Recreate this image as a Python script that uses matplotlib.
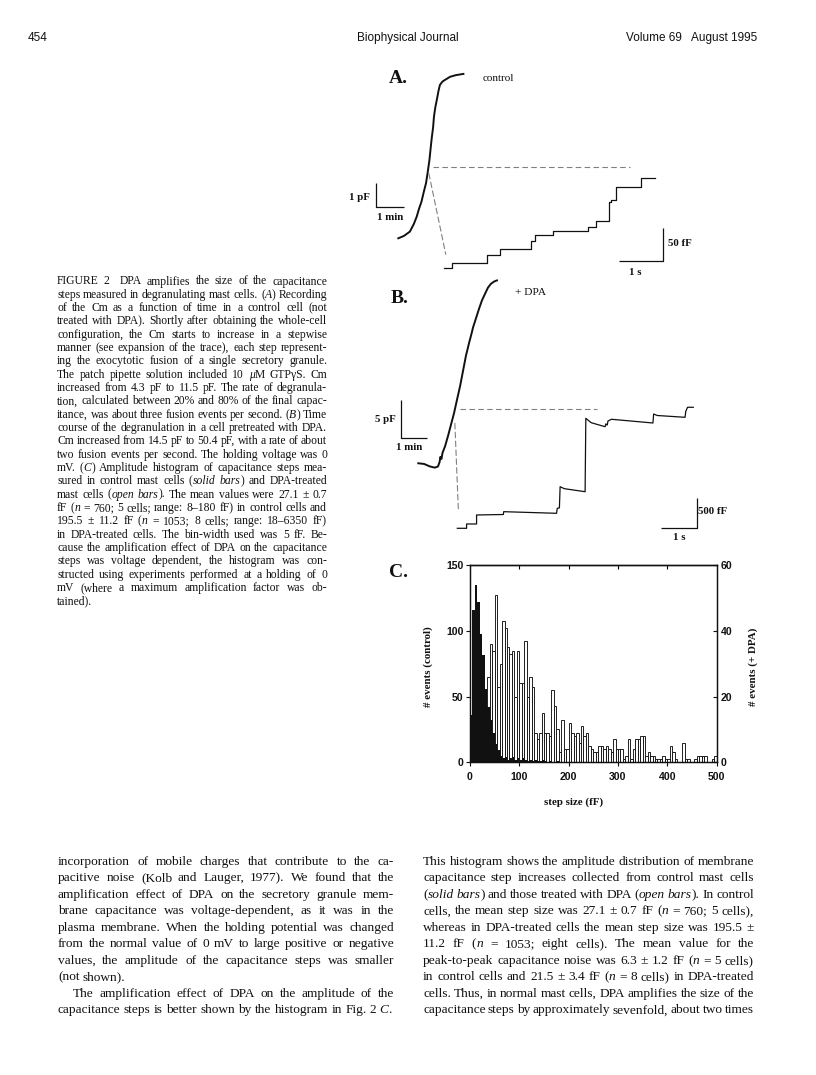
import numpy as np
import matplotlib
matplotlib.use('Agg')
import matplotlib.pyplot as plt
from matplotlib.patches import ConnectionPatch

plt.rcParams['font.family'] = ['Liberation Sans', 'DejaVu Sans']
SERIF = ['Liberation Serif', 'DejaVu Serif']
INK = '#111111'

# ---- panel A, whole recording (time in min, Cm in pF)
a_slow_t = [0, 0.2, 0.41, 0.55, 0.65, 0.73, 0.82, 0.9, 0.98, 1.04, 1.1, 1.14,
            1.18, 1.23, 1.26, 1.31, 1.36, 1.42, 1.47, 1.56, 1.65, 1.83, 2.04, 2.3]
a_slow_c = [4.3, 4.4, 4.58, 4.9, 5.2, 5.52, 5.83, 6.23, 6.6, 7.06, 7.56, 8.02,
            8.46, 8.93, 9.37, 9.77, 10.06, 10.44, 10.69, 10.83, 10.9, 11.03, 11.1, 11.15]
# ---- panel A, expanded steps (time in s, dCm in fF)
a_fast_t = [0, 0.19, 0.96, 1.27, 1.97, 2.05, 2.47, 3.25, 3.43, 3.72, 3.78, 3.88, 4.45, 4.76]
a_fast_c = [0, 7.5, 20, 29, 41, 50, 56, 62.5, 71.5, 100, 103, 122.5, 135, 135]

# ---- panel B, whole recording (min, pF)
b_slow_t = [0, 0.22, 0.44, 0.63, 0.75, 0.81, 0.84, 0.88, 0.92, 1.02, 1.13, 1.24, 1.36,
            1.47, 1.59, 1.7, 1.81, 1.93, 2.04, 2.08, 2.2, 2.31, 2.42, 2.54, 2.65, 2.76,
            2.88, 2.99]
b_slow_c = [14.5, 14.41, 14.08, 13.92, 14.08, 14.67, 15.34, 15.07, 15.87, 16.79, 18.12,
            19.58, 21.17, 22.9, 24.75, 26.74, 28.73, 30.45, 31.91, 32.5, 33.8, 35.0,
            36.1, 37.0, 37.8, 38.3, 38.6, 38.75]
# ---- panel B, expanded steps (s, fF)
b_fast_t = [0, 0.26, 0.26, 0.54, 0.54, 1.29, 1.3, 2.78, 2.8, 2.86, 2.88, 3.0, 3.58, 3.6,
            3.75, 4.14, 4.16, 4.2, 4.22, 4.32, 5.48, 5.5, 5.6, 6.38, 6.4, 6.45, 6.61]
b_fast_c = [0, 0, 72, 72, 222, 230, 277, 250, 333, 340, 693, 660, 610, 1833,
            1760, 1693, 1740, 1720, 1788, 1817, 1755, 1905, 1880, 1850, 1950, 2017, 2017]

# ---- panel C, amplitude histogram, 5 fF bins
bin_width = 5
ctrl_counts = [36, 116, 135, 122, 98, 82, 56, 42, 32, 22,
               14, 9, 5, 3, 4, 2, 3, 4, 2, 3,
               2, 3, 2, 1, 2, 1, 2, 1, 1, 2,
               1, 0, 1, 0, 0, 1]
dpa_counts = [0, 0, 0, 2, 6, 10, 16, 26, 36, 34,
              51, 23, 30, 43, 41, 35, 33, 34, 20, 34,
              24, 24, 37, 20, 26, 23, 9, 7, 9, 15,
              9, 9, 8, 22, 17, 10, 3, 13, 4, 4,
              12, 9, 8, 9, 6, 11, 8, 9, 5, 4,
              3, 3, 5, 5, 4, 5, 4, 3, 7, 4,
              4, 4, 1, 2, 7, 1, 4, 7, 7, 8,
              8, 2, 3, 2, 2, 1, 1, 1, 2, 1,
              1, 5, 3, 1, 0, 0, 6, 1, 1, 0,
              0, 1, 2, 2, 2, 2, 0, 0, 1, 2]

caption = [
    "FIGURE 2  DPA amplifies the size of the capacitance",
    "steps measured in degranulating mast cells. (*A*) Recording",
    "of the Cm as a function of time in a control cell (not",
    "treated with DPA). Shortly after obtaining the whole-cell",
    "configuration, the Cm starts to increase in a stepwise",
    "manner (see expansion of the trace), each step represent-",
    "ing the exocytotic fusion of a single secretory granule.",
    "The patch pipette solution included 10 *\u03bc*M GTP\u03b3S. Cm",
    "increased from 4.3 pF to 11.5 pF. The rate of degranula-",
    "tion, calculated between 20% and 80% of the final capac-",
    "itance, was about three fusion events per second. (*B*) Time",
    "course of the degranulation in a cell pretreated with DPA.",
    "Cm increased from 14.5 pF to 50.4 pF, with a rate of about",
    "two fusion events per second. The holding voltage was 0",
    "mV. (*C*) Amplitude histogram of capacitance steps mea-",
    "sured in control mast cells (*solid bars*) and DPA-treated",
    "mast cells (*open bars*). The mean values were 27.1 \u00b1 0.7",
    "fF (*n* = 760; 5 cells; range: 8\u2013180 fF) in control cells and",
    "195.5 \u00b1 11.2 fF (*n* = 1053; 8 cells; range: 18\u20136350 fF)",
    "in DPA-treated cells. The bin-width used was 5 fF. Be-",
    "cause the amplification effect of DPA on the capacitance",
    "steps was voltage dependent, the histogram was con-",
    "structed using experiments performed at a holding of 0",
    "mV (where a maximum amplification factor was ob-",
    "tained).",
]
body_left = [
    "incorporation of mobile charges that contribute to the ca-",
    "pacitive noise (Kolb and Lauger, 1977). We found that the",
    "amplification effect of DPA on the secretory granule mem-",
    "brane capacitance was voltage-dependent, as it was in the",
    "plasma membrane. When the holding potential was changed",
    "from the normal value of 0 mV to large positive or negative",
    "values, the amplitude of the capacitance steps was smaller",
    "(not shown).",
    "The amplification effect of DPA on the amplitude of the",
    "capacitance steps is better shown by the histogram in Fig. 2 *C*.",
]
body_right = [
    "This histogram shows the amplitude distribution of membrane",
    "capacitance step increases collected from control mast cells",
    "(*solid bars*) and those treated with DPA (*open bars*). In control",
    "cells, the mean step size was 27.1 \u00b1 0.7 fF (*n* = 760; 5 cells),",
    "whereas in DPA-treated cells the mean step size was 195.5 \u00b1",
    "11.2 fF (*n* = 1053; eight cells). The mean value for the",
    "peak-to-peak capacitance noise was 6.3 \u00b1 1.2 fF (*n* = 5 cells)",
    "in control cells and 21.5 \u00b1 3.4 fF (*n* = 8 cells) in DPA-treated",
    "cells. Thus, in normal mast cells, DPA amplifies the size of the",
    "capacitance steps by approximately sevenfold, about two times",
]

W, H = 816, 1075
fig = plt.figure(figsize=(W / 100, H / 100), dpi=100)
page = fig.add_axes([0, 0, 1, 1])
page.set_xlim(0, W)
page.set_ylim(H, 0)
page.axis('off')
renderer = fig.canvas.get_renderer()


def parse(line):
    # split a line into words, each a list of (text, italic) pieces
    words, cur, buf, it = [], [], '', False
    for ch in line:
        if ch == '*':
            if buf:
                cur.append((buf, it))
                buf = ''
            it = not it
        elif ch == ' ':
            if buf:
                cur.append((buf, it))
                buf = ''
            words.append(cur)
            cur = []
        else:
            buf += ch
    if buf:
        cur.append((buf, it))
    words.append(cur)
    return words


def make_words(line, y, size):
    placed, widths = [], []
    for w in parse(line):
        segs, tot = [], 0
        for s, it in w:
            t = page.text(0, y, s, fontsize=size, family=SERIF, color=INK,
                          style='italic' if it else 'normal', va='baseline')
            wd = t.get_window_extent(renderer).width
            segs.append((t, wd))
            tot += wd
        placed.append(segs)
        widths.append(tot)
    return placed, widths


def fit_size(blocks, slack=1.0):
    # size at which the tightest justified line keeps plain word spaces
    probe = 10.0
    fit = []
    for lines, x0, x1, ragged, indent in blocks:
        for i, line in enumerate(lines):
            if i in ragged:
                continue
            placed, widths = make_words(line, 0, probe)
            nat = sum(widths) + (len(widths) - 1) * probe * 100 / 72 * 0.25
            fit.append((x1 - x0 - indent.get(i, 0)) / nat)
            for segs in placed:
                for t, _ in segs:
                    t.remove()
    return probe * min(fit) * slack


def block(lines, x0, x1, ytop, step, size, ragged=(), indent=None):
    indent = indent or {}
    for i, line in enumerate(lines):
        y = ytop + step * i
        placed, widths = make_words(line, y, size)
        gap = size * 100 / 72 * 0.25
        xs = x0 + indent.get(i, 0)
        if i not in ragged and len(widths) > 1:
            gap = (x1 - xs - sum(widths)) / (len(widths) - 1)
        x = xs
        for segs, tot in zip(placed, widths):
            xx = x
            for t, wd in segs:
                t.set_x(xx)
                xx += wd
            x += tot + gap


def trace_ax(ox, oy, sx, sy):
    # full-page axes whose data origin sits at pixel (ox, oy), sx/sy px per unit
    ax = fig.add_axes([0, 0, 1, 1])
    ax.set_xlim(-ox / sx, (W - ox) / sx)
    ax.set_ylim((oy - H) / sy, oy / sy)
    ax.axis('off')
    return ax


def bar(ax, xs, ys):
    ax.plot(xs, ys, color=INK, lw=0.9, clip_on=False, solid_capstyle='butt')


dash = dict(color='0.5', lw=0.8, linestyle=(0, (5, 3)))

# ---------------- panel A
axA1 = trace_ax(398.3, 341.5, 28.3, 24)
axA1.plot(a_slow_t, a_slow_c, color=INK, lw=1.4)
bar(axA1, [-0.79, -0.79, 0.21], [6.59, 5.59, 5.59])
axA2 = trace_ax(444, 268.3, 44.3, 0.666)
axA2.plot(a_fast_t, a_fast_c, color=INK, lw=0.9, drawstyle='steps-post')
bar(axA2, [4.94, 4.94, 3.94], [61, 11, 11])
axA2.plot([-0.24, 4.2], [151.7, 151.7], **dash)
fig.add_artist(ConnectionPatch((1.08, 7.0), (0.04, 21), axA1.transData, axA2.transData, **dash))

# ---------------- panel B
axB1 = trace_ax(418.3, 572.6, 26.3, 7.54)
axB1.plot(b_slow_t, b_slow_c, color=INK, lw=1.4)
bar(axB1, [-0.66, -0.66, 0.34], [22.9, 17.9, 17.9])
axB2 = trace_ax(457.3, 528.3, 35.7, 0.06)
axB2.plot(b_fast_t, b_fast_c, color=INK, lw=0.9)
bar(axB2, [6.71, 6.71, 5.71], [500, 0, 0])
axB2.plot([0.076, 3.9], [1989, 1989], **dash)
fig.add_artist(ConnectionPatch((1.39, 19.8), (0.03, 305), axB1.transData, axB2.transData, **dash))

# ---------------- panel C
x0, y0, x1, y1 = 470, 565.3, 716.7, 762.3
axC = fig.add_axes([x0 / W, 1 - y1 / H, (x1 - x0) / W, (y1 - y0) / H])
axD = axC.twinx()
left_d = np.arange(len(dpa_counts)) * bin_width
left_c = np.arange(len(ctrl_counts)) * bin_width
axD.bar(left_d, dpa_counts, width=bin_width, align='edge', facecolor='white',
        edgecolor=INK, linewidth=0.65)
axC.bar(left_c, ctrl_counts, width=bin_width, align='edge', color=INK, linewidth=0)
axC.set_zorder(axD.get_zorder() + 1)
axC.patch.set_visible(False)
axC.set_xlim(0, 500)
axC.set_ylim(0, 150)
axD.set_ylim(0, 60)
axC.set_xticks([0, 100, 200, 300, 400, 500])
axC.set_yticks([0, 50, 100, 150])
axD.set_yticks([0, 20, 40, 60])
for a in (axC, axD):
    for s in a.spines.values():
        s.set_linewidth(0.9)
        s.set_color(INK)
tick_font = dict(labelsize=7.6, colors=INK)
axC.tick_params(axis='y', direction='out', length=3, width=0.8, pad=1.5, **tick_font)
axC.tick_params(axis='x', direction='out', length=3, width=0.8, pad=4, **tick_font)
axD.tick_params(axis='y', direction='in', length=3, width=0.8, pad=3, **tick_font)
top = axC.secondary_xaxis('top')
top.set_xticks([100, 200, 300, 400])
top.tick_params(direction='in', length=3, width=0.8, labeltop=False)
top.spines['top'].set_linewidth(0.9)
for t in axC.get_xticklabels() + axC.get_yticklabels() + axD.get_yticklabels():
    t.set_fontweight('bold')
lab = dict(family=SERIF, weight='bold', fontsize=7.8, color=INK)
axC.set_ylabel('# events (control)', va='center', **lab)
axD.set_ylabel('# events (+ DPA)', va='center', rotation=90, **lab)
axC.set_xlabel('step size (fF)', va='center', **lab)
axC.yaxis.set_label_coords(-0.17, 0.485)
axD.yaxis.set_label_coords(1.147, 0.485)
axC.xaxis.set_label_coords(0.42, -0.2)

# ---------------- page text
hdr = dict(fontsize=8.5, color=INK, va='baseline')
page.text(28, 41, '454', ha='left', **hdr)
page.text(408, 41, 'Biophysical Journal', ha='center', **hdr)
page.text(757, 41, 'Volume 69   August 1995', ha='right', **hdr)

big = dict(family=SERIF, weight='bold', fontsize=14, color=INK, va='baseline')
page.text(389, 83, 'A.', **big)
page.text(391, 303, 'B.', **big)
page.text(389, 577, 'C.', **big)
page.text(483, 81, 'control', family=SERIF, fontsize=8, color=INK, va='baseline')
page.text(515, 295, '+ DPA', family=SERIF, fontsize=8.2, color=INK, va='baseline')

sb = dict(family=SERIF, weight='bold', fontsize=7.8, color=INK, va='center')
page.text(370, 197, '1 pF', ha='right', **sb)
page.text(390, 218, '1 min', ha='center', **sb)
page.text(668, 244, '50 fF', ha='left', **sb)
page.text(635, 272.7, '1 s', ha='center', **sb)
page.text(396, 420, '5 pF', ha='right', **sb)
page.text(409, 448, '1 min', ha='center', **sb)
page.text(698, 511.7, '500 fF', ha='left', **sb)
page.text(679, 538, '1 s', ha='center', **sb)

cap_rag = {len(caption) - 1}
cap_size = fit_size([(caption, 57, 327, cap_rag, {})], slack=1.01)
block(caption, 57, 327, 284.5, 13.33, cap_size, ragged=cap_rag)

left_rag, left_ind = {7, 9}, {8: 15}
body_size = fit_size([(body_left, 58, 394, left_rag, left_ind),
                      (body_right, 423, 754, set(), {})], slack=1.015)
block(body_left, 58, 394, 865, 16.48, body_size, ragged=left_rag, indent=left_ind)
block(body_right, 423, 754, 865, 16.48, body_size)

fig.savefig('out.png', dpi=100, facecolor='white')
